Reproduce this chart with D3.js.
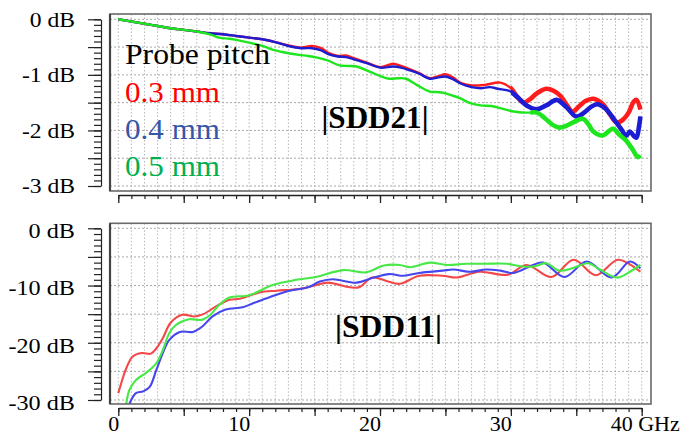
<!DOCTYPE html>
<html>
<head>
<meta charset="utf-8">
<script src="https://cdn.jsdelivr.net/npm/d3@7"></script>
<style>
    body { margin: 0; background: #fff; }
    text { font-family: "Liberation Serif", "Times New Roman", Times, serif; }
</style>
</head>
<body>
<svg id="chart" width="694" height="434"></svg>
<script>
    // tick labels
    const xTicks = [0, 10, 20, 30, 40];
    const xLabels = ['0', '10', '20', '30', '40 GHz'];
    const sdd21Ticks = [0, -1, -2, -3];
    const sdd21Labels = ['0 dB', '-1 dB', '-2 dB', '-3 dB'];
    const sdd11Ticks = [0, -10, -20, -30];
    const sdd11Labels = ['0 dB', '-10 dB', '-20 dB', '-30 dB'];
    const pitches = ['0.3 mm', '0.4 mm', '0.5 mm'];

    // |SDD21| (GHz, dB)
    const red21 = [[0, 0], [1, -0.04], [2, -0.08], [3, -0.12], [4, -0.16], [5, -0.19], [6, -0.22], [7, -0.25], [8, -0.27], [9, -0.30], [10, -0.33], [11, -0.36], [12, -0.41], [13, -0.47], [14, -0.51], [14.8, -0.48], [15.5, -0.52], [16.1, -0.61], [16.8, -0.66], [17.4, -0.65], [18, -0.70], [19, -0.78], [20, -0.86], [21, -0.80], [21.6, -0.84], [22.3, -0.90], [23, -0.97], [23.8, -1.06], [24.4, -1.03], [25, -0.99], [25.6, -1.05], [26.2, -1.15], [27, -1.19], [28, -1.18], [29.2, -1.14], [30, -1.24], [30.5, -1.40], [31, -1.50], [31.5, -1.43], [32, -1.33], [32.7, -1.25], [33.3, -1.29], [33.8, -1.38], [34.3, -1.55], [34.7, -1.66], [35.2, -1.57], [35.7, -1.47], [36.3, -1.43], [37, -1.52], [37.6, -1.72], [38.1, -1.86], [38.6, -1.80], [39, -1.68], [39.4, -1.48], [39.6, -1.45], [39.9, -1.62]];
    const blue21 = [[0, 0], [1, -0.04], [2, -0.08], [3, -0.12], [4, -0.16], [5, -0.19], [6, -0.22], [7, -0.25], [8, -0.27], [9, -0.30], [10, -0.33], [11, -0.36], [12, -0.41], [13, -0.48], [14, -0.52], [14.8, -0.52], [15.5, -0.56], [16.1, -0.63], [16.8, -0.67], [17.4, -0.68], [18, -0.72], [19, -0.79], [20, -0.87], [21, -0.85], [21.6, -0.87], [22.3, -0.92], [23, -0.98], [23.8, -1.07], [24.4, -1.05], [25, -1.03], [25.6, -1.08], [26.2, -1.16], [27, -1.22], [27.7, -1.24], [28.4, -1.22], [29, -1.25], [29.9, -1.29], [30.5, -1.40], [31.2, -1.55], [32, -1.62], [32.7, -1.55], [33.5, -1.45], [34.2, -1.57], [35, -1.75], [35.6, -1.68], [36.1, -1.58], [36.6, -1.53], [37.2, -1.60], [37.7, -1.74], [38.1, -1.87], [38.5, -2.00], [38.8, -2.10], [39.1, -2.02], [39.4, -2.10], [39.6, -2.13], [39.8, -1.92], [39.9, -1.75]];
    const green21 = [[0, 0], [1, -0.04], [2, -0.08], [3, -0.12], [4, -0.16], [5, -0.19], [6, -0.22], [7, -0.27], [7.7, -0.33], [8.5, -0.35], [9.2, -0.38], [10, -0.42], [11, -0.48], [12, -0.56], [13, -0.61], [13.8, -0.64], [14.5, -0.66], [15.2, -0.69], [16, -0.74], [16.9, -0.83], [17.6, -0.84], [18.2, -0.85], [19.2, -0.94], [20, -1.02], [20.7, -1.07], [21.4, -1.06], [22, -1.07], [22.8, -1.18], [23.8, -1.30], [24.4, -1.31], [24.8, -1.32], [25.5, -1.37], [26.1, -1.42], [26.9, -1.51], [27.7, -1.55], [28.5, -1.56], [29.2, -1.60], [30.2, -1.66], [31.2, -1.68], [32, -1.68], [32.6, -1.78], [33.2, -1.90], [33.7, -1.95], [34.2, -1.92], [34.8, -1.85], [35.5, -1.79], [35.9, -1.88], [36.3, -2.02], [37, -2.09], [37.8, -1.97], [38.3, -2.08], [38.8, -2.18], [39.3, -2.34], [39.7, -2.48], [39.9, -2.45]];
    const noiseStart21 = [30, 30, 31.5]; // GHz where the traces get ragged

    // |SDD11| (GHz, dB)
    const red11 = [[0, -28.8], [0.3, -26.5], [0.6, -24.5], [1.1, -22.4], [1.8, -21.8], [2.5, -21.9], [2.9, -21.0], [3.4, -19.2], [4.0, -16.5], [4.9, -15.1], [5.8, -15.4], [6.5, -15.0], [7.5, -13.6], [8.5, -12.5], [9.3, -12.3], [10.8, -11.2], [12.1, -10.9], [13.8, -10.6], [15, -10.0], [16, -9.5], [17.7, -10.3], [18.4, -10.3], [19.4, -8.6], [20.5, -9.2], [21.5, -9.7], [23, -8.3], [24.8, -8.3], [25.9, -8.6], [27.6, -7.6], [29.8, -8.1], [31.2, -6.4], [33.1, -8.5], [34.8, -5.5], [36.5, -8.2], [38.2, -5.5], [39.9, -7.6]];
    const blue11 = [[0.84, -30.7], [1.35, -28.8], [1.9, -28.5], [2.4, -27.7], [2.9, -24.8], [3.4, -21.8], [3.9, -19.5], [4.7, -18.1], [5.7, -18.1], [6.4, -17.2], [7.2, -15.4], [8.2, -14.2], [9.5, -13.8], [10.3, -13.1], [11.6, -12.0], [13.1, -10.9], [14.5, -10.3], [15.4, -9.3], [16.4, -8.9], [18.2, -9.5], [19.4, -8.7], [20.7, -8.0], [21.8, -8.3], [23, -7.8], [24.8, -7.4], [25.6, -7.2], [26.9, -7.6], [28.1, -7.2], [29.2, -7.4], [30.2, -7.8], [31.7, -6.4], [32.5, -6.0], [34.1, -8.5], [35.8, -5.8], [37.7, -8.6], [39.1, -5.8], [39.9, -7.0]];
    const green11 = [[0.6, -30.8], [0.84, -28.3], [1.35, -26.5], [2.1, -25.3], [2.9, -23.6], [3.4, -21.3], [3.9, -18.3], [4.4, -16.9], [5.4, -15.9], [6.4, -16.0], [7.0, -15.2], [7.7, -13.4], [8.5, -12.1], [10, -11.7], [11.8, -9.9], [13.6, -9.0], [15.1, -8.5], [17.2, -7.3], [18.9, -7.7], [20.3, -6.5], [21.5, -6.4], [22.3, -6.8], [23.8, -6.0], [25.1, -6.4], [26.6, -6.2], [28.1, -6.2], [29.7, -6.2], [30.7, -6.6], [31.7, -6.7], [32.7, -6.1], [33.7, -7.4], [34.8, -6.9], [35.9, -6.1], [36.8, -7.2], [38.1, -8.6], [39.1, -7.6], [39.9, -6.4]];

    const svg = d3.select('#chart');
    const x = d3.scaleLinear().domain([0, 40]).range([118.3, 641.7]);
    const frameLeft = 110, frameRight = 651;

    // stretch text horizontally like the original bitmap
    const stretch = function (sel, k) {
        sel.each(function () {
            const w = this.getComputedTextLength();
            d3.select(this).attr('textLength', w * k).attr('lengthAdjust', 'spacingAndGlyphs');
        });
    };

    const makePanel = function (o) {
        const g = svg.append('g');
        const clipId = 'clip' + o.id;

        g.append('clipPath').attr('id', clipId).append('rect')
            .attr('x', frameLeft).attr('y', o.top).attr('width', frameRight - frameLeft).attr('height', o.bottom - o.top);

        // grid
        const grid = g.append('g').attr('clip-path', 'url(#' + clipId + ')');
        grid.selectAll('.vg').data(d3.range(0, 41, 1)).enter().append('line')
            .attr('x1', d => x(d)).attr('x2', d => x(d))
            .attr('y1', o.top).attr('y2', o.bottom)
            .attr('stroke', '#b8b8b8').attr('stroke-width', 1).attr('stroke-dasharray', '1.5,2');
        grid.selectAll('.hg').data(o.gridValues).enter().append('line')
            .attr('x1', frameLeft).attr('x2', frameRight)
            .attr('y1', d => o.y(d)).attr('y2', d => o.y(d))
            .attr('stroke', '#a8a8a8').attr('stroke-width', 1).attr('stroke-dasharray', '2,2');

        // traces
        const line = d3.line().x(d => x(d[0])).y(d => o.y(d[1])).curve(d3.curveCatmullRom.alpha(0.5));
        const traces = g.append('g').attr('clip-path', 'url(#' + clipId + ')');
        o.series.forEach(function (s, i) {
            traces.append('path').attr('d', line(s)).attr('fill', 'none')
                .attr('stroke', o.colors[i]).attr('stroke-width', o.lineWidth)
                .attr('stroke-linejoin', 'round');
            if (o.noise) {
                const nid = clipId + 'n' + i;
                g.append('clipPath').attr('id', nid).append('rect')
                    .attr('x', x(o.noise[i])).attr('y', o.top)
                    .attr('width', frameRight - x(o.noise[i])).attr('height', o.bottom - o.top);
                traces.append('path').attr('d', line(s)).attr('fill', 'none')
                    .attr('clip-path', 'url(#' + nid + ')')
                    .attr('stroke', o.colors[i]).attr('stroke-width', 4.6)
                    .attr('stroke-linejoin', 'round');
            }
        });

        // frame
        g.append('rect').attr('x', frameLeft).attr('y', o.top)
            .attr('width', frameRight - frameLeft).attr('height', o.bottom - o.top)
            .attr('fill', 'none').attr('stroke', '#6a6a6a').attr('stroke-width', 1.6);
        g.append('line').attr('x1', frameLeft).attr('x2', frameLeft).attr('y1', o.top).attr('y2', o.bottom)
            .attr('stroke', '#444').attr('stroke-width', 2.2);

        // y axis
        const yMajor = d3.axisLeft(o.y).tickValues(o.ticks).tickSize(13).tickPadding(13).tickSizeOuter(0)
            .tickFormat((d, i) => o.labels[i]);
        const yAxis = g.append('g').attr('transform', 'translate(101,0)').call(yMajor);
        yAxis.selectAll('line, path').attr('stroke', '#222').attr('stroke-width', 1.2);
        yAxis.selectAll('text').attr('fill', '#000').attr('dy', o.labelDy)
            .style('font-size', o.labelSize + 'px')
            .call(stretch, o.labelStretch);

        const yMid = d3.axisLeft(o.y).tickValues(o.midTicks).tickSize(13).tickFormat('');
        g.append('g').attr('transform', 'translate(101,0)').call(yMid)
            .call(a => a.select('.domain').remove())
            .selectAll('line').attr('stroke', '#222').attr('stroke-width', 1.2);

        const yMinor = d3.axisLeft(o.y).tickValues(o.minorTicks).tickSize(7).tickFormat('');
        g.append('g').attr('transform', 'translate(101,0)').call(yMinor)
            .call(a => a.select('.domain').remove())
            .selectAll('line').attr('stroke', '#222').attr('stroke-width', 1.2);

        // x axis
        const xMajor = d3.axisBottom(x).tickValues(d3.range(0, 41, 5)).tickSize(8).tickSizeOuter(0).tickFormat('');
        const xa = g.append('g').attr('transform', 'translate(0,' + o.axisY + ')').call(xMajor);
        xa.selectAll('line, path').attr('stroke', '#222').attr('stroke-width', 1.3);
        const xMinor = d3.axisBottom(x).tickValues(d3.range(0, 41, 1)).tickSize(4).tickFormat('');
        g.append('g').attr('transform', 'translate(0,' + o.axisY + ')').call(xMinor)
            .call(a => a.select('.domain').remove())
            .selectAll('line').attr('stroke', '#222').attr('stroke-width', 1.2);

        return g;
    };

    // top panel |SDD21|
    const y21 = d3.scaleLinear().domain([0, -3]).range([19.3, 186]);
    const panel21 = makePanel({
        id: 'a', top: 14, bottom: 191, axisY: 195, y: y21,
        gridValues: d3.range(0, -3.01, -0.5),
        ticks: sdd21Ticks, labels: sdd21Labels,
        midTicks: [-0.5, -1.5, -2.5],
        minorTicks: d3.range(0, -3.01, -0.1).map(v => +v.toFixed(1)),
        labelSize: 20, labelStretch: 1.18, labelDy: '0.34em',
        series: [red21, blue21, green21],
        colors: ['#ff1c1c', '#1c1cd2', '#1ee61e'],
        lineWidth: 2.4, noise: noiseStart21
    });

    panel21.append('text').attr('x', 125).attr('y', 63.5).text('Probe pitch')
        .style('font-size', '28.5px').attr('fill', '#000')
        .attr('textLength', 145).attr('lengthAdjust', 'spacingAndGlyphs');
    const pitchColors = ['#ff0000', '#3656a6', '#00b050'];
    panel21.selectAll('.pitch').data(pitches).enter().append('text')
        .attr('x', 125).attr('y', (d, i) => 101.5 + i * 37)
        .text(d => d).attr('fill', (d, i) => pitchColors[i])
        .style('font-size', '29.5px')
        .attr('textLength', 95).attr('lengthAdjust', 'spacingAndGlyphs');
    panel21.append('text').attr('x', 321.5).attr('y', 128.3).text('|SDD21|')
        .style('font-size', '32px').style('font-weight', 'bold')
        .attr('textLength', 107).attr('lengthAdjust', 'spacingAndGlyphs');

    // bottom panel |SDD11|
    const y11 = d3.scaleLinear().domain([0, -30]).range([228.3, 400]);
    const panel11 = makePanel({
        id: 'b', top: 223.3, bottom: 404, axisY: 408, y: y11,
        gridValues: d3.range(0, -30.1, -5),
        ticks: sdd11Ticks, labels: sdd11Labels,
        midTicks: [-5, -15, -25],
        minorTicks: d3.range(0, -30.1, -1),
        labelSize: 22, labelStretch: 1.1, labelDy: '0.42em',
        series: [red11, blue11, green11],
        colors: ['#f24848', '#4646ee', '#48e848'],
        lineWidth: 2.1, noise: null
    });

    panel11.append('text').attr('x', 335).attr('y', 336.7).text('|SDD11|')
        .style('font-size', '32px').style('font-weight', 'bold')
        .attr('textLength', 107).attr('lengthAdjust', 'spacingAndGlyphs');

    panel11.selectAll('.xl').data(xTicks).enter().append('text')
        .attr('x', (d, i) => i === xTicks.length - 1 ? x(d) - 31 : x(d) + 1)
        .attr('y', 430.5)
        .attr('text-anchor', (d, i) => i === xTicks.length - 1 ? 'start' : 'end')
        .style('font-size', '22px')
        .text((d, i) => xLabels[i]);
</script>
</body>
</html>
